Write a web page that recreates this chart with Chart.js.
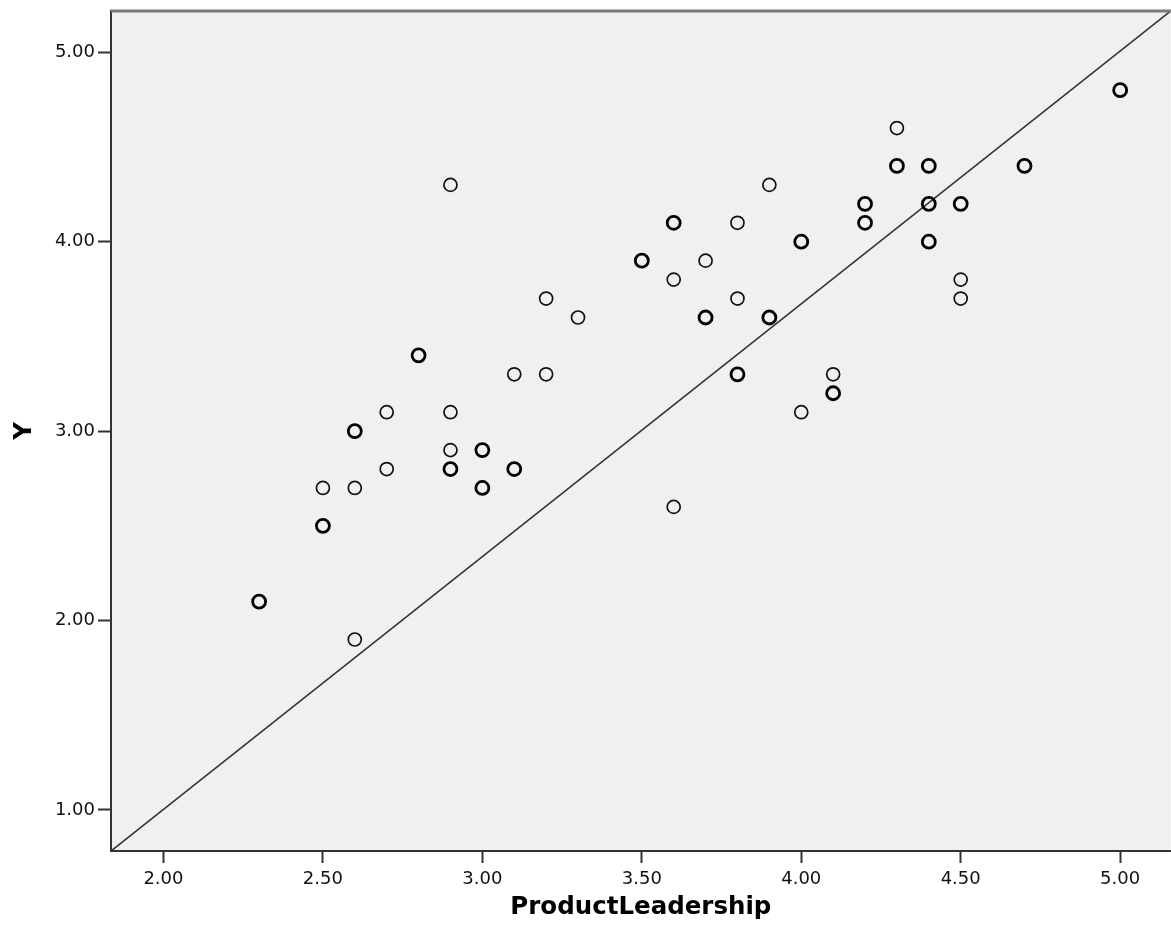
<!DOCTYPE html>
<html>
<head>
<meta charset="utf-8">
<script src="https://cdn.jsdelivr.net/npm/chart.js@4.4.1/dist/chart.umd.min.js"></script>
<style>
  html, body { margin: 0; padding: 0; background: #ffffff; overflow: hidden; width: 1171px; height: 945px; }
  #wrap { width: 1180px; height: 945px; position: relative; }
  #c { display: block; }
</style>
</head>
<body>
<div id="wrap"><canvas id="c"></canvas></div>
<script>
// ---- axis ranges and ticks ----
const X_MIN = 1.8355, X_MAX = 5.1585;
const Y_MIN = 0.7835, Y_MAX = 5.218;
const xTickValues = [2.0, 2.5, 3.0, 3.5, 4.0, 4.5, 5.0];
const yTickValues = [1.0, 2.0, 3.0, 4.0, 5.0];
const xTitle = 'ProductLeadership';
const yTitle = 'Y';

// ---- observations seen once ----
const singleX = [2.5, 2.6, 2.6, 2.7, 2.7, 2.9, 2.9, 2.9, 3.1, 3.2, 3.2, 3.3, 3.6, 3.6, 3.7, 3.8, 3.8, 3.9, 4.0, 4.1, 4.3, 4.5, 4.5];
const singleY = [2.7, 2.7, 1.9, 3.1, 2.8, 4.3, 3.1, 2.9, 3.3, 3.7, 3.3, 3.6, 3.8, 2.6, 3.9, 4.1, 3.7, 4.3, 3.1, 3.3, 4.6, 3.8, 3.7];

// ---- observations that overlap (drawn heavier) ----
const repeatX = [2.3, 2.5, 2.6, 2.8, 2.9, 3.0, 3.0, 3.1, 3.5, 3.6, 3.7, 3.8, 3.9, 4.0, 4.1, 4.2, 4.2, 4.3, 4.4, 4.4, 4.4, 4.5, 4.7, 5.0];
const repeatY = [2.1, 2.5, 3.0, 3.4, 2.8, 2.9, 2.7, 2.8, 3.9, 4.1, 3.6, 3.3, 3.6, 4.0, 3.2, 4.2, 4.1, 4.4, 4.4, 4.2, 4.0, 4.2, 4.4, 4.8];

// ---- reference line: corner to corner of the plot frame ----
const refLineX = [X_MIN, X_MAX];
const refLineY = [Y_MIN, Y_MAX];

const toPts = (xs, ys) => xs.map((x, i) => ({ x: x, y: ys[i] }));

const noPad = () => ({ left: 0, top: 0, right: 0, bottom: 0 });

const frame = {
  id: 'frame',
  beforeDraw(chart) {
    const { ctx, chartArea: a } = chart;
    ctx.save();
    ctx.fillStyle = '#f0f0f0';
    ctx.fillRect(a.left, a.top, a.right - a.left, a.bottom - a.top);
    ctx.restore();
  },
  afterDraw(chart) {
    const { ctx, chartArea: a } = chart;
    ctx.save();
    ctx.strokeStyle = '#7a7a7a';
    ctx.lineWidth = 3;
    ctx.beginPath();
    ctx.moveTo(a.left, a.top);
    ctx.lineTo(chart.width, a.top);
    ctx.stroke();
    ctx.restore();
  }
};

const tickFont = { family: 'DejaVu Sans', size: 18 };
const titleFont = { family: 'DejaVu Sans', size: 24.5, weight: 'bold' };

new Chart(document.getElementById('c'), {
  type: 'scatter',
  data: {
    datasets: [
      {
        type: 'line',
        data: toPts(refLineX, refLineY),
        borderColor: '#333333',
        borderWidth: 1.6,
        pointRadius: 0,
        fill: false,
        order: 3
      },
      {
        data: toPts(singleX, singleY),
        pointStyle: 'circle',
        pointRadius: 6.5,
        pointBorderWidth: 1.7,
        borderColor: '#111111',
        backgroundColor: 'rgba(0,0,0,0)',
        order: 2
      },
      {
        data: toPts(repeatX, repeatY),
        pointStyle: 'circle',
        pointRadius: 6.5,
        pointBorderWidth: 2.8,
        borderColor: '#000000',
        backgroundColor: 'rgba(0,0,0,0)',
        order: 1
      }
    ]
  },
  plugins: [frame],
  options: {
    responsive: true,
    maintainAspectRatio: false,
    animation: false,
    events: [],
    layout: { padding: { top: 11, right: 1.7, left: 0, bottom: 0 } },
    plugins: { legend: { display: false }, tooltip: { enabled: false } },
    scales: {
      x: {
        type: 'linear',
        min: X_MIN,
        max: X_MAX,
        afterBuildTicks(s) { s.ticks = xTickValues.map(v => ({ value: v })); },
        afterFit(s) { s.height = 94; s.paddingLeft = 0; s.paddingRight = 0; s.getPadding = noPad; },
        ticks: {
          font: tickFont,
          color: '#111111',
          padding: 6,
          maxRotation: 0,
          autoSkip: false,
          callback: v => Number(v).toFixed(2)
        },
        grid: { display: true, drawOnChartArea: false, drawTicks: true, tickLength: 12, tickColor: '#333333', tickWidth: 2 },
        border: { display: true, color: '#333333', width: 2 },
        title: { display: true, text: xTitle, font: titleFont, color: '#000000', padding: { top: 0, bottom: 23 } }
      },
      y: {
        type: 'linear',
        min: Y_MIN,
        max: Y_MAX,
        afterBuildTicks(s) { s.ticks = yTickValues.map(v => ({ value: v })); },
        afterFit(s) { s.width = 111; s.paddingTop = 0; s.paddingBottom = 0; s.getPadding = noPad; },
        ticks: {
          font: tickFont,
          color: '#111111',
          padding: 3,
          autoSkip: false,
          callback: v => Number(v).toFixed(2)
        },
        grid: { display: true, drawOnChartArea: false, drawTicks: true, tickLength: 13, tickColor: '#333333', tickWidth: 2 },
        border: { display: true, color: '#333333', width: 2 },
        title: { display: true, text: yTitle, font: titleFont, color: '#000000', padding: { top: 10, bottom: 0 } }
      }
    }
  }
});
</script>
</body>
</html>
